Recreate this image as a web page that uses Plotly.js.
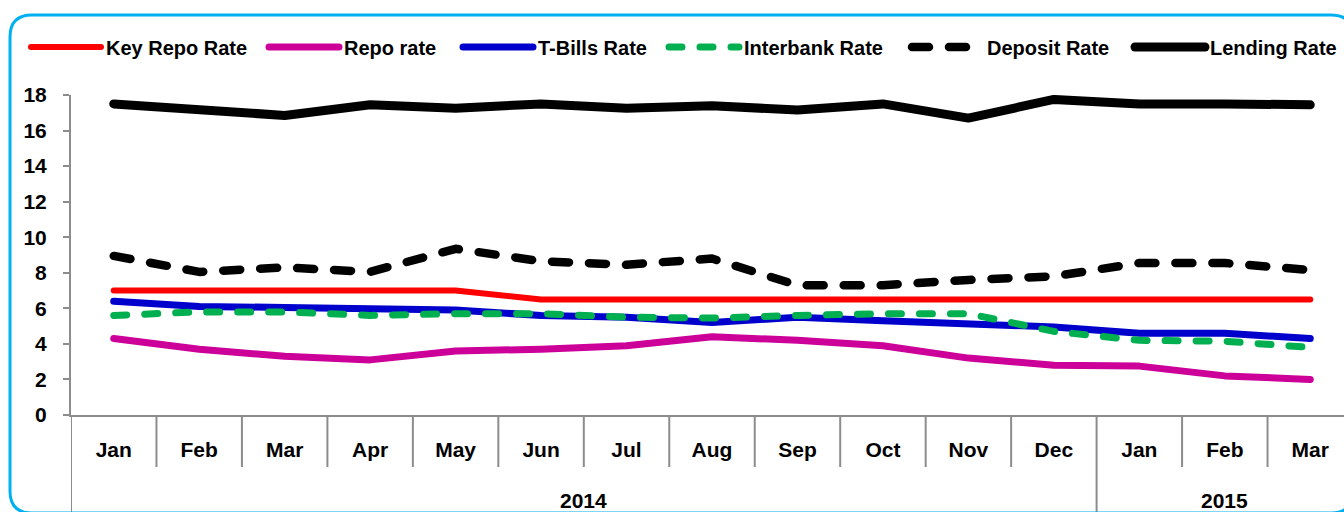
<!DOCTYPE html>
<html>
<head>
<meta charset="utf-8">
<script src="https://cdn.plot.ly/plotly-3.0.1.min.js"></script>
<style>
  html, body { margin: 0; padding: 0; overflow: hidden; background: #ffffff; }
  #chart { width: 1360px; height: 512px; }
  path.js-line { stroke-linecap: round !important; stroke-linejoin: round !important; }
</style>
</head>
<body>
<div id="chart"></div>
<script>
// ---- data ----
const months = ['Jan','Feb','Mar','Apr','May','Jun','Jul','Aug','Sep','Oct','Nov','Dec','Jan','Feb','Mar'];
const years  = ['2014','2014','2014','2014','2014','2014','2014','2014','2014','2014','2014','2014','2015','2015','2015'];

const keyRepoRate    = [7.0, 7.0, 7.0, 7.0, 7.0, 6.5, 6.5, 6.5, 6.5, 6.5, 6.5, 6.5, 6.5, 6.5, 6.5];
const repoRate       = [4.3, 3.7, 3.3, 3.1, 3.6, 3.7, 3.9, 4.4, 4.2, 3.9, 3.2, 2.8, 2.75, 2.2, 2.0];
const tBillsRate     = [6.4, 6.1, 6.05, 6.0, 5.9, 5.6, 5.5, 5.2, 5.5, 5.3, 5.15, 4.95, 4.6, 4.6, 4.3];
const interbankRate  = [5.6, 5.8, 5.8, 5.6, 5.7, 5.7, 5.5, 5.45, 5.6, 5.7, 5.7, 4.7, 4.2, 4.15, 3.8];
const depositRate    = [8.95, 8.05, 8.3, 8.05, 9.35, 8.65, 8.45, 8.8, 7.3, 7.3, 7.6, 7.8, 8.55, 8.55, 8.15];
const lendingRate    = [17.5, 17.2, 16.85, 17.45, 17.25, 17.5, 17.25, 17.4, 17.15, 17.5, 16.7, 17.75, 17.5, 17.5, 17.45];

const seriesNames = ['Key Repo Rate', 'Repo rate', 'T-Bills Rate', 'Interbank Rate', 'Deposit Rate', 'Lending Rate'];

// ---- layout geometry ----
const W = 1360, H = 512;
const M = { l: 71, r: 7, t: 95, b: 97 };
const PW = W - M.l - M.r, PH = H - M.t - M.b;
const px2x = px => (px - M.l) / PW;
const px2y = py => (H - M.b - py) / PH;

const FONT = 'Liberation Sans, Arial, sans-serif';
const FS_AX = 21, FS_LEG = 20;
const xIdx = months.map((m, i) => i);

const styles = [
  { color: '#FF0000', width: 6 },
  { color: '#CC0099', width: 7 },
  { color: '#0000CC', width: 7 },
  { color: '#00B050', width: 7, dash: '13px,18px' },
  { color: '#000000', width: 8.5, dash: '17px,20px' },
  { color: '#000000', width: 9 }
];
const values = [keyRepoRate, repoRate, tBillsRate, interbankRate, depositRate, lendingRate];
const legendIds = ['legend', 'legend2', 'legend3', 'legend4', 'legend5', 'legend6'];
const legendStartPx = [26, 264, 458, 664, 907, 1130];

const traces = values.map((v, k) => ({
  type: 'scatter',
  mode: 'lines',
  name: seriesNames[k],
  x: xIdx,
  y: v,
  line: Object.assign({ shape: 'linear' }, styles[k]),
  legend: legendIds[k],
  hoverinfo: 'skip'
}));

const layout = {
  width: W, height: H,
  margin: M,
  paper_bgcolor: '#ffffff',
  plot_bgcolor: '#ffffff',
  font: { family: FONT, size: FS_AX, color: '#000000', weight: 'bold' },
  showlegend: true,
  xaxis: {
    type: 'linear',
    range: [-0.5, months.length - 0.5],
    tickvals: xIdx,
    ticktext: months,
    ticks: '',
    showgrid: false,
    zeroline: false,
    showline: true,
    linecolor: '#8c8c8c',
    linewidth: 2,
    ticklabelstandoff: 15,
    tickfont: { family: FONT, size: FS_AX, color: '#000000', weight: 'bold' },
    fixedrange: true
  },
  yaxis: {
    range: [0, 18],
    dtick: 2,
    tick0: 0,
    ticks: 'outside',
    ticklen: 6,
    tickwidth: 2,
    tickcolor: '#8c8c8c',
    showgrid: false,
    zeroline: false,
    showline: true,
    linecolor: '#8c8c8c',
    linewidth: 2,
    ticklabelstandoff: 12,
    tickfont: { family: FONT, size: FS_AX, color: '#000000', weight: 'bold' },
    fixedrange: true
  },
  shapes: [],
  annotations: []
};

// legends: one per series, laid out in a row
legendIds.forEach((id, k) => {
  layout[id] = {
    x: px2x(legendStartPx[k]), xanchor: 'left',
    y: px2y(47), yanchor: 'middle',
    orientation: 'h',
    bgcolor: 'rgba(0,0,0,0)',
    borderwidth: 0,
    itemwidth: 70,
    font: { family: FONT, size: FS_LEG, color: '#000000', weight: 'bold' }
  };
});

// category separators and year dividers
const shortLen = 52;
for (let b = 0; b <= months.length; b++) {
  const isYearEdge = (b === 0 || b === months.length || years[b] !== years[b - 1]);
  layout.shapes.push({
    type: 'line', xref: 'x', yref: 'paper',
    x0: b - 0.5, x1: b - 0.5,
    y0: 0, y1: isYearEdge ? px2y(H + 5) : px2y(H - M.b + shortLen),
    line: { color: '#8c8c8c', width: 2 }
  });
}

// year group labels
const groups = [];
years.forEach((y, i) => {
  const g = groups.length ? groups[groups.length - 1] : null;
  if (g && g.year === y) g.end = i; else groups.push({ year: y, start: i, end: i });
});
groups.forEach(g => {
  layout.annotations.push({
    xref: 'x', yref: 'paper',
    x: (g.start + g.end) / 2, y: px2y(500),
    text: g.year, showarrow: false,
    xanchor: 'center', yanchor: 'middle',
    font: { family: FONT, size: FS_AX, color: '#000000', weight: 'bold' }
  });
});

// rounded outer frame
(function () {
  const L = 10, T = 15, R = 1353, B = 513, rad = 22;
  const X = px2x, Y = px2y;
  const path =
    'M' + X(L + rad) + ',' + Y(T) +
    ' L' + X(R - rad) + ',' + Y(T) +
    ' Q' + X(R) + ',' + Y(T) + ' ' + X(R) + ',' + Y(T + rad) +
    ' L' + X(R) + ',' + Y(B - rad) +
    ' Q' + X(R) + ',' + Y(B) + ' ' + X(R - rad) + ',' + Y(B) +
    ' L' + X(L + rad) + ',' + Y(B) +
    ' Q' + X(L) + ',' + Y(B) + ' ' + X(L) + ',' + Y(B - rad) +
    ' L' + X(L) + ',' + Y(T + rad) +
    ' Q' + X(L) + ',' + Y(T) + ' ' + X(L + rad) + ',' + Y(T) + ' Z';
  layout.shapes.push({
    type: 'path', xref: 'paper', yref: 'paper', path: path,
    line: { color: '#00B0F0', width: 3 }, layer: 'above'
  });
})();

Plotly.newPlot('chart', traces, layout, { displayModeBar: false, staticPlot: true });
</script>
</body>
</html>
